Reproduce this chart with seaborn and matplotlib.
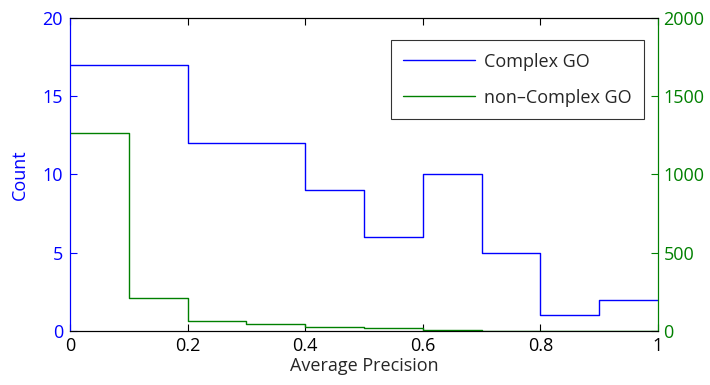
import numpy as np
import pandas as pd
import matplotlib
matplotlib.use("Agg")
import matplotlib.pyplot as plt
import seaborn as sns
from matplotlib.lines import Line2D

bin_edges = [0.0, 0.1, 0.2, 0.3, 0.4, 0.5, 0.6, 0.7, 0.8, 0.9, 1.0]
complex_counts = [17, 17, 12, 12, 9, 6, 10, 5, 1, 2]
noncomplex_counts = [1265, 209, 66, 45, 26, 17, 8, 0, 0, 0]
x_ticks = [0, 0.2, 0.4, 0.6, 0.8, 1]
left_ticks = [0, 5, 10, 15, 20]
right_ticks = [0, 500, 1000, 1500, 2000]

sns.set_style("white")
plt.rcParams['font.family'] = ['Open Sans', 'DejaVu Sans']
FS = 13
plt.rcParams['font.size'] = FS

centers = [(a + b) / 2 for a, b in zip(bin_edges[:-1], bin_edges[1:])]
df = pd.DataFrame({"center": centers, "complex": complex_counts, "noncomplex": noncomplex_counts})

blue = "#0000ff"
green = "#008000"

fig = plt.figure(figsize=(7.1, 3.85), dpi=100)
ax = fig.add_axes([70/710, 1-331/385, (658-70)/710, (331-18)/385])
ax2 = ax.twinx()

sns.histplot(data=df, x="center", weights="complex", bins=bin_edges, element="step",
             fill=False, color=blue, linewidth=1.0, ax=ax)
sns.histplot(data=df, x="center", weights="noncomplex", bins=bin_edges, element="step",
             fill=False, color=green, linewidth=1.0, ax=ax2)

ax.set_xlim(0, 1)
ax.set_ylim(0, 20)
ax2.set_ylim(0, 2000)
ax.set_xticks(x_ticks)
ax.set_xticklabels([f"{t:g}" for t in x_ticks])
ax.set_yticks(left_ticks)
ax2.set_yticks(right_ticks)

ax.set_xlabel("Average Precision", fontsize=FS, labelpad=2)
ax.set_ylabel("Count", color=blue, fontsize=FS, labelpad=10)
ax2.set_ylabel("")

for a in (ax, ax2):
    for s in a.spines.values():
        s.set_visible(True)
        s.set_linewidth(0.8)
        s.set_color("black")
ax2.spines["left"].set_color(blue)
ax2.spines["right"].set_color(green)
ax.spines["left"].set_color(blue)
ax.spines["right"].set_color(green)

ax.tick_params(axis="y", colors=blue, direction="in", length=5, labelsize=FS, pad=5)
ax.tick_params(axis="x", colors="black", direction="in", length=5, labelsize=FS, top=True, bottom=True, pad=4)
ax2.tick_params(axis="y", colors=green, direction="in", length=5, labelsize=FS, pad=4)
for lbl in ax.get_yticklabels():
    lbl.set_color(blue)
for lbl in ax2.get_yticklabels():
    lbl.set_color(green)

handles = [Line2D([0], [0], color=blue, lw=1.0), Line2D([0], [0], color=green, lw=1.0)]
leg = ax2.legend(handles, ["Complex GO", "non\u2013Complex GO"], loc="upper right",
                 bbox_to_anchor=(0.976, 0.930), borderaxespad=0, frameon=True, fancybox=False,
                 edgecolor="black", fontsize=FS, handlelength=4.0, handletextpad=0.45,
                 borderpad=0.7, labelspacing=1.0)
leg.get_frame().set_linewidth(0.8)

fig.savefig("out.png", dpi=100)
